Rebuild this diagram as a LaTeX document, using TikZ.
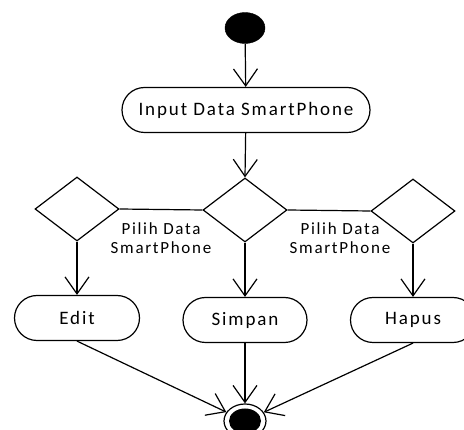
\documentclass[tikz,border=0pt]{standalone}
\usepackage{fontspec}
\newfontfamily\dfont{Carlito}[LetterSpace=10]
\usetikzlibrary{shapes.geometric,shapes.misc,arrows.meta}
\begin{document}
\begin{tikzpicture}[x=1pt,y=-1pt,
  every node/.style={font=\dfont\fontsize{19}{22}\selectfont},
  act/.style={draw,rounded rectangle,line width=1.2pt,minimum width=125pt,minimum height=45pt,inner sep=0pt},
  dec/.style={draw,diamond,line width=1.2pt,minimum width=84pt,minimum height=64pt,inner sep=0pt},
  lbl/.style={align=center,inner sep=0pt,font=\dfont\fontsize{17}{19}\selectfont},
  flow/.style={line width=1.2pt,-{Straight Barb[length=17pt,width=24pt,line width=1.2pt]}},
  link/.style={line width=1.2pt}]
\useasboundingbox (0,0) rectangle (464,430);
\node[draw,ellipse,fill=black,minimum width=40pt,minimum height=31pt,inner sep=0pt] (start) at (245,28) {};
\node[act,minimum width=248pt] (input) at (246,110) {Input Data SmartPhone};
\node[dec] (d1) at (77,209) {};
\node[dec] (d2) at (245,210) {};
\node[dec] (d3) at (413,211) {};
\node[lbl] (l1) at (161,238) {Pilih Data\\SmartPhone};
\node[lbl] (l2) at (340,238) {Pilih Data\\SmartPhone};
\node[act] (edit) at (77,318) {Edit};
\node[act,minimum width=124pt] (simpan) at (245,320) {Simpan};
\node[act] (hapus) at (413,320) {Hapus};
\node[draw,ellipse,line width=1.2pt,minimum width=42pt,minimum height=34pt,inner sep=0pt] (end) at (245,421) {};
\node[ellipse,fill=black,minimum width=32pt,minimum height=25pt,inner sep=0pt] (endc) at (245,421) {};
\draw[flow] (start) -- (input);
\draw[flow] (input) -- (d2.north);
\draw[link] (d1.east) -- (d2.west);
\draw[link] (d2.east) -- (d3.west);
\draw[flow] (d1.south) -- (edit.north);
\draw[flow] (d2.south) -- (simpan.north);
\draw[flow] (d3.south) -- (hapus.north);
\draw[flow] (edit.south) -- (end);
\draw[flow] (simpan.south) -- (end);
\draw[flow] (hapus.south) -- (end);
\end{tikzpicture}
\end{document}
